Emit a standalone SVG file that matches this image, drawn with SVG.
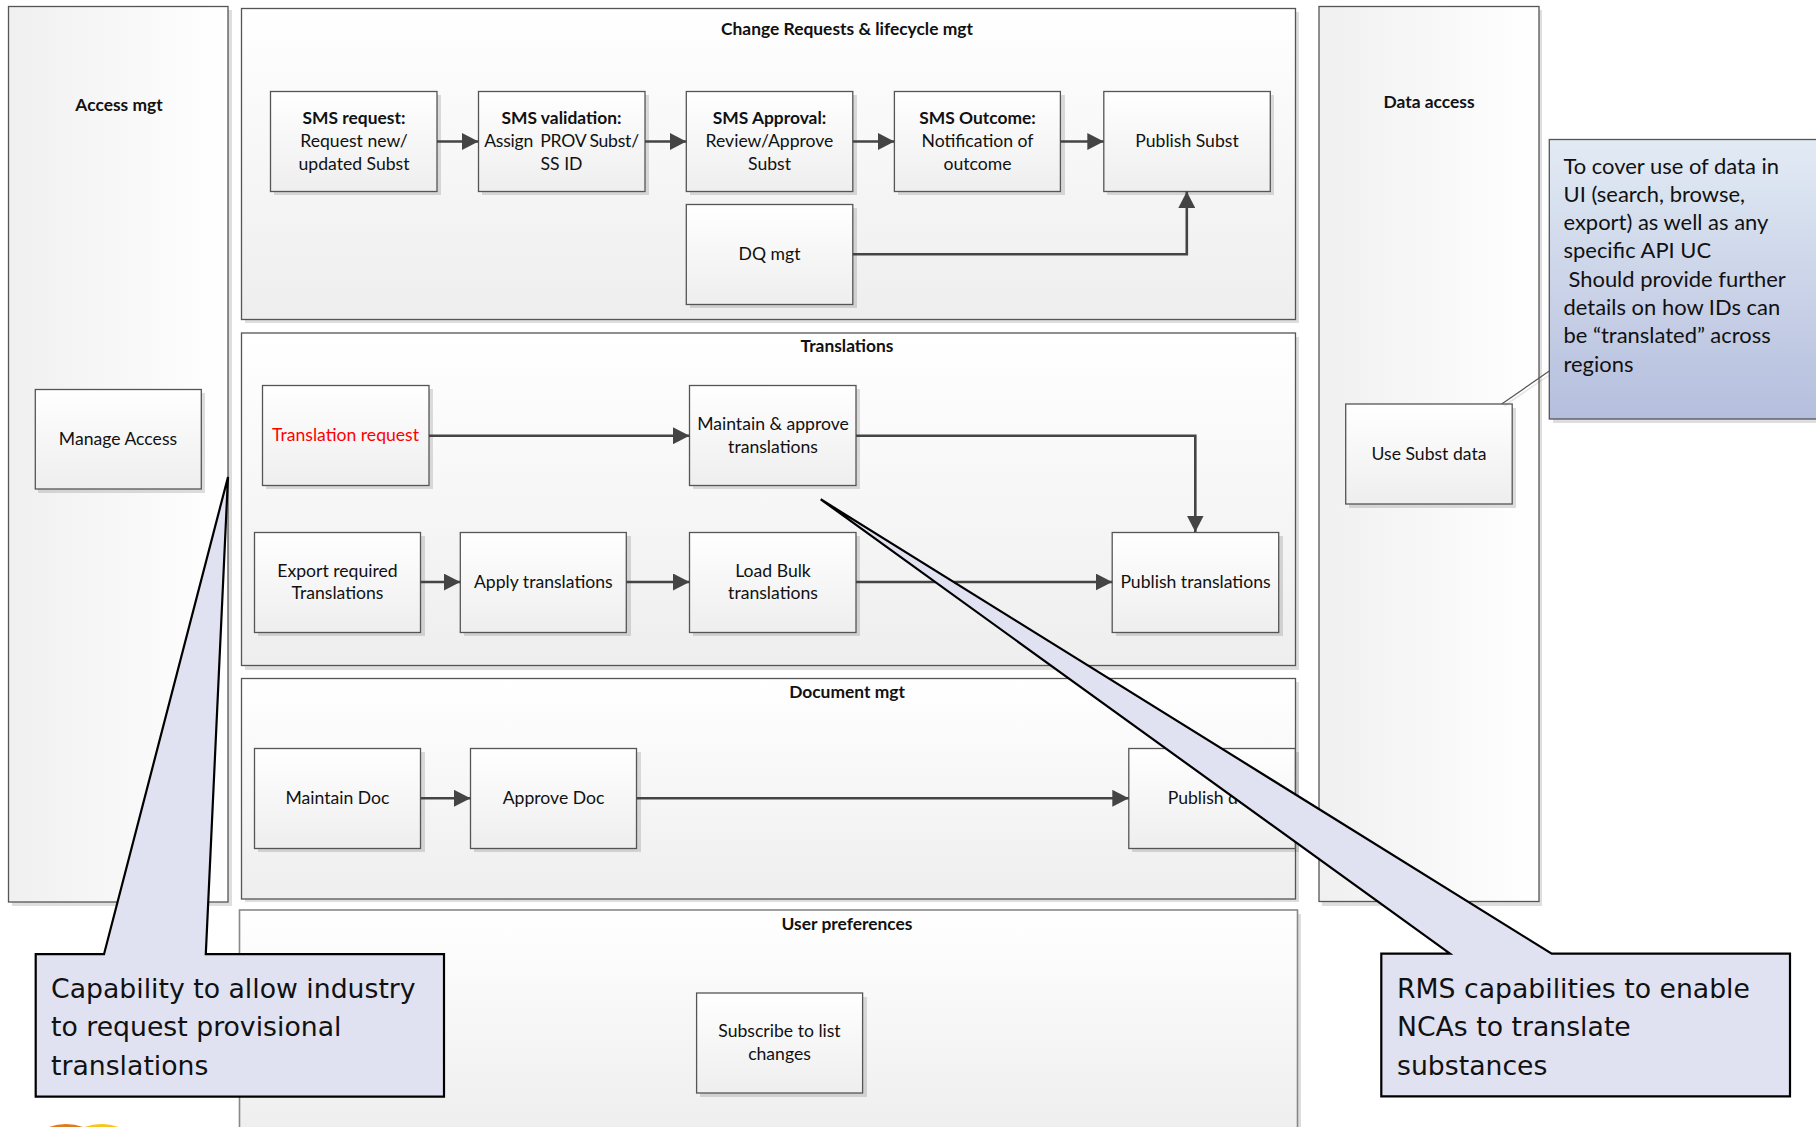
<svg xmlns="http://www.w3.org/2000/svg" width="1816" height="1127" viewBox="0 0 1816 1127">
<style>
text{font-family:"Lato","Liberation Sans",sans-serif;fill:#111;text-anchor:middle;font-size:17.6px}
text.b{font-weight:700;font-size:17.4px}
.panel{stroke:#555;stroke-width:1.3}
.v{fill:url(#gv)}
.h{fill:url(#gh)}
.box{fill:url(#gv);stroke:#555;stroke-width:1.3}
.sh{fill:#000;fill-opacity:.13}
.c{fill:none;stroke:#444;stroke-width:2.6}
.call{fill:#e0e2f1;stroke:#000;stroke-width:2.2;stroke-linejoin:miter}
text.ct{font-family:"DejaVu Sans","Liberation Sans",sans-serif;font-size:26.7px;text-anchor:start}
text.nt{font-size:21.95px;text-anchor:start}
</style>
<defs>
<linearGradient id="gv" x1="0" y1="0" x2="0" y2="1"><stop offset="0" stop-color="#fff"/><stop offset="1" stop-color="#eee"/></linearGradient>
<linearGradient id="gh" x1="0" y1="0" x2="1" y2="0"><stop offset="0" stop-color="#f0f0f0"/><stop offset="1" stop-color="#fff"/></linearGradient>
<linearGradient id="gn" x1="0" y1="0" x2="0" y2="1"><stop offset="0" stop-color="#e2ebf4"/><stop offset="1" stop-color="#b5bedd"/></linearGradient>
<marker id="a" markerUnits="userSpaceOnUse" markerWidth="17" markerHeight="17" refX="16.5" refY="8.5" orient="auto"><path d="M0 0L16.5 8.5L0 17Z" fill="#444"/></marker>
</defs>

<g id="panel-access"><rect class="sh" x="12" y="10" width="220" height="896"/><rect class="panel h" x="8.5" y="6.5" width="219.5" height="895.5"/><text class="b" x="119" y="111">Access mgt</text></g>
<g id="panel-data"><rect class="sh" x="1322" y="10" width="220" height="896"/><rect class="panel h" x="1319" y="6.5" width="220" height="895"/><text class="b" x="1429" y="108">Data access</text></g>
<g id="panel-change"><rect class="sh" x="245" y="12" width="1054" height="311"/><rect class="panel v" x="241.5" y="8.5" width="1054" height="311"/><text class="b" x="847" y="35">Change Requests &amp; lifecycle mgt</text></g>
<g id="panel-translations"><rect class="sh" x="245" y="337" width="1054" height="333"/><rect class="panel v" x="241.5" y="333" width="1054" height="332.5"/><text class="b" x="847" y="352">Translations</text></g>
<g id="panel-document"><rect class="sh" x="245" y="682" width="1054" height="220"/><rect class="panel v" x="241.5" y="678.5" width="1054" height="220.5"/><text class="b" x="847" y="698">Document mgt</text></g>
<g id="panel-user"><rect class="sh" x="243" y="914" width="1058" height="220"/><rect class="panel v" x="239.5" y="910" width="1058" height="225" style="stroke:#888;stroke-width:1.6"/><text class="b" x="847" y="930">User preferences</text></g>

<g id="node-manage-access"><rect class="sh" x="38" y="393" width="167" height="100"/><rect class="box" x="35.3" y="389.5" width="166" height="99.5"/><text x="118" y="445">Manage Access</text></g>
<g id="node-sms-request"><rect class="sh" x="274" y="95" width="167" height="100"/><rect class="box" x="270.5" y="91.5" width="166.5" height="100"/><text x="354" y="124" class="b">SMS request:</text><text x="354" y="147">Request new/</text><text x="354" y="170">updated Subst</text></g>
<g id="node-sms-validation"><rect class="sh" x="482" y="95" width="167" height="100"/><rect class="box" x="478.5" y="91.5" width="166.5" height="100"/><text x="561.5" y="124" class="b">SMS validation:</text><text x="561.5" y="147" xml:space="preserve" style="letter-spacing:-.25px;word-spacing:-.6px">Assign  PROV Subst/</text><text x="561.5" y="170">SS ID</text></g>
<g id="node-sms-approval"><rect class="sh" x="690" y="95" width="167" height="100"/><rect class="box" x="686.3" y="91.5" width="166.5" height="100"/><text x="769.5" y="124" class="b">SMS Approval:</text><text x="769.5" y="147">Review/Approve</text><text x="769.5" y="170">Subst</text></g>
<g id="node-sms-outcome"><rect class="sh" x="898" y="95" width="167" height="100"/><rect class="box" x="894.4" y="91.5" width="166" height="100"/><text x="977.5" y="124" class="b">SMS Outcome:</text><text x="977.5" y="147">Notification of</text><text x="977.5" y="170">outcome</text></g>
<g id="node-publish-subst"><rect class="sh" x="1107" y="95" width="167" height="100"/><rect class="box" x="1103.8" y="91.5" width="166.5" height="100"/><text x="1187" y="147">Publish Subst</text></g>
<g id="node-dq"><rect class="sh" x="690" y="208" width="167" height="100"/><rect class="box" x="686.3" y="204.5" width="166.5" height="100"/><text x="769.5" y="260">DQ mgt</text></g>
<g id="node-translation-request"><rect class="sh" x="266" y="389" width="167" height="100"/><rect class="box" x="262.5" y="385.5" width="166.5" height="100"/><text x="345.5" y="441" style="fill:#f00">Translation request</text></g>
<g id="node-maintain-approve"><rect class="sh" x="693" y="389" width="167" height="100"/><rect class="box" x="689.5" y="385.5" width="166.5" height="100"/><text x="773" y="430">Maintain &amp; approve</text><text x="773" y="453">translations</text></g>
<g id="node-export"><rect class="sh" x="258" y="536" width="167" height="100"/><rect class="box" x="254.5" y="532.5" width="166" height="100"/><text x="337.5" y="577">Export required</text><text x="337.5" y="599">Translations</text></g>
<g id="node-apply"><rect class="sh" x="464" y="536" width="167" height="100"/><rect class="box" x="460.3" y="532.5" width="166" height="100"/><text x="543.3" y="588">Apply translations</text></g>
<g id="node-load-bulk"><rect class="sh" x="693" y="536" width="167" height="100"/><rect class="box" x="689.5" y="532.5" width="166.5" height="100"/><text x="773" y="577">Load Bulk</text><text x="773" y="599">translations</text></g>
<g id="node-publish-translations"><rect class="sh" x="1116" y="536" width="167" height="100"/><rect class="box" x="1112.2" y="532.5" width="166.5" height="100"/><text x="1195.5" y="588">Publish translations</text></g>
<g id="node-maintain-doc"><rect class="sh" x="258" y="752" width="167" height="100"/><rect class="box" x="254.5" y="748.5" width="166" height="100"/><text x="337.5" y="804">Maintain Doc</text></g>
<g id="node-approve-doc"><rect class="sh" x="474" y="752" width="167" height="100"/><rect class="box" x="470.5" y="748.5" width="166" height="100"/><text x="553.5" y="804">Approve Doc</text></g>
<g id="node-publish-doc"><rect class="sh" x="1132" y="752" width="167" height="100"/><rect class="box" x="1128.8" y="748.5" width="166.5" height="100"/><text x="1212" y="804">Publish doc</text></g>
<g id="node-subscribe"><rect class="sh" x="700" y="997" width="167" height="100"/><rect class="box" x="696.6" y="993" width="166" height="100"/><text x="779.5" y="1037">Subscribe to list</text><text x="779.5" y="1060">changes</text></g>
<g id="node-use-subst"><rect class="sh" x="1349" y="408" width="167" height="100"/><rect class="box" x="1345.7" y="404" width="166.5" height="100"/><text x="1429" y="460">Use Subst data</text></g>

<g id="connectors">
<path class="c" marker-end="url(#a)" d="M437 141.5H478.5"/>
<path class="c" marker-end="url(#a)" d="M645 141.5H686.3"/>
<path class="c" marker-end="url(#a)" d="M852.8 141.5H894.4"/>
<path class="c" marker-end="url(#a)" d="M1060.4 141.5H1103.8"/>
<path class="c" marker-end="url(#a)" d="M852.8 254.3H1186.8V191.5"/>
<path class="c" marker-end="url(#a)" d="M429 435.7H689.5"/>
<path class="c" marker-end="url(#a)" d="M856 435.7H1195.3V532"/>
<path class="c" marker-end="url(#a)" d="M420.5 582H460.3"/>
<path class="c" marker-end="url(#a)" d="M626.3 582H689.5"/>
<path class="c" marker-end="url(#a)" d="M856 582H1112.2"/>
<path class="c" marker-end="url(#a)" d="M420.5 798.3H470.5"/>
<path class="c" marker-end="url(#a)" d="M636.5 798.3H1128.8"/>
</g>

<g id="note-data">
<path d="M1551 374L1504 406" fill="none" stroke="#000" stroke-opacity=".1" stroke-width="1.5"/>
<path d="M1549.3 371L1501.7 404" fill="none" stroke="#555" stroke-width="1.2"/>
<rect class="sh" x="1553" y="143" width="270" height="280"/>
<rect x="1549.3" y="139.5" width="270" height="279.5" fill="url(#gn)" stroke="#555" stroke-width="1.3"/>
<text class="nt" x="1563.5" y="173.5">To cover use of data in</text><text class="nt" x="1563.5" y="201.5">UI (search, browse,</text><text class="nt" x="1563.5" y="229.5">export) as well as any</text><text class="nt" x="1563.5" y="257.5">specific API UC</text><text class="nt" x="1568.5" y="286.5">Should provide further</text><text class="nt" x="1563.5" y="314.5">details on how IDs can</text><text class="nt" x="1563.5" y="342.5">be “translated” across</text><text class="nt" x="1563.5" y="371.5">regions</text>
</g>

<g id="callout-industry">
<path class="call" d="M35.7 954.2H104L228 477L205.8 954.2H444V1096.7H35.7Z"/>
<text class="ct" x="51" y="997.5">Capability to allow industry</text><text class="ct" x="51" y="1035.5">to request provisional</text><text class="ct" x="51" y="1074.5">translations</text>
</g>
<g id="callout-rms">
<path class="call" d="M1381.3 953.7H1450L820.7 499.3L1551.7 953.7H1790V1096.3H1381.3Z"/>
<text class="ct" x="1397" y="997.5">RMS capabilities to enable</text><text class="ct" x="1397" y="1035.5">NCAs to translate</text><text class="ct" x="1397" y="1074.5">substances</text>
</g>

<g id="logo"><circle cx="66" cy="1174" r="50" fill="#e07a20"/><circle cx="101.5" cy="1174" r="50" fill="#f8c61a"/></g>
</svg>
